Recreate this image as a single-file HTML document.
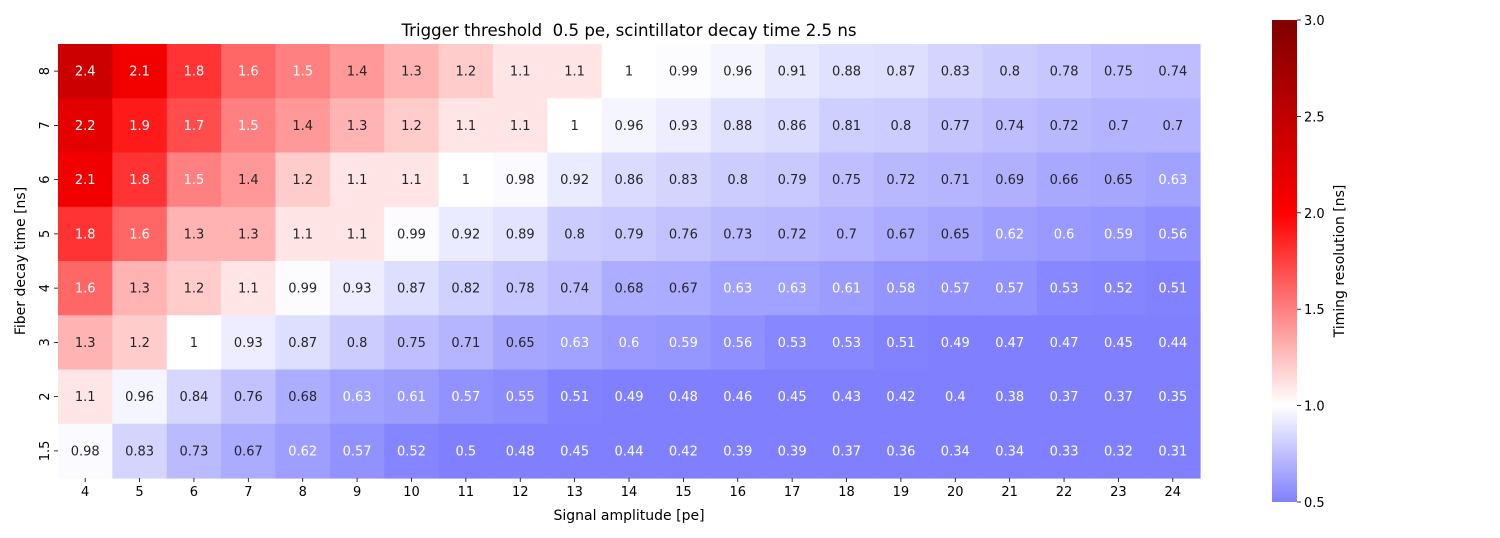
<!DOCTYPE html>
<html><head><meta charset="utf-8"><style>
body{margin:0;background:#fff;font-family:"Liberation Sans","DejaVu Sans",sans-serif}
</style></head><body>
<svg id="chart" width="1500" height="533" xmlns="http://www.w3.org/2000/svg" font-family="DejaVu Sans, Liberation Sans, sans-serif">
<defs>
<linearGradient id="cbg" x1="0" y1="1" x2="0" y2="0">
<stop offset="0" stop-color="#8080ff"/>
<stop offset="0.2" stop-color="#ffffff"/>
<stop offset="0.6" stop-color="#ff0000"/>
<stop offset="1" stop-color="#800000"/>
</linearGradient>
</defs>
<text x="629" y="36" font-size="16.6" text-anchor="middle">Trigger threshold&#160; 0.5 pe, scintillator decay time 2.5 ns</text>
<g id="cells"></g>
<g id="xticks"></g>
<g id="yticks"></g>
<text x="629" y="520" font-size="14" text-anchor="middle">Signal amplitude [pe]</text>
<text transform="translate(25,261) rotate(-90)" font-size="14" text-anchor="middle">Fiber decay time [ns]</text>
<rect x="1272" y="20" width="25" height="482" fill="url(#cbg)"/>
<g id="cbticks"></g>
<text transform="translate(1344,261) rotate(-90)" font-size="14" text-anchor="middle">Timing resolution [ns]</text>
</svg>
<script>
const xLabels=["4","5","6","7","8","9","10","11","12","13","14","15","16","17","18","19","20","21","22","23","24"];
const yLabels=["8","7","6","5","4","3","2","1.5"];
const row8=[2.4,2.1,1.8,1.6,1.5,1.4,1.3,1.2,1.1,1.1,1,0.99,0.96,0.91,0.88,0.87,0.83,0.8,0.78,0.75,0.74];
const row7=[2.2,1.9,1.7,1.5,1.4,1.3,1.2,1.1,1.1,1,0.96,0.93,0.88,0.86,0.81,0.8,0.77,0.74,0.72,0.7,0.7];
const row6=[2.1,1.8,1.5,1.4,1.2,1.1,1.1,1,0.98,0.92,0.86,0.83,0.8,0.79,0.75,0.72,0.71,0.69,0.66,0.65,0.63];
const row5=[1.8,1.6,1.3,1.3,1.1,1.1,0.99,0.92,0.89,0.8,0.79,0.76,0.73,0.72,0.7,0.67,0.65,0.62,0.6,0.59,0.56];
const row4=[1.6,1.3,1.2,1.1,0.99,0.93,0.87,0.82,0.78,0.74,0.68,0.67,0.63,0.63,0.61,0.58,0.57,0.57,0.53,0.52,0.51];
const row3=[1.3,1.2,1,0.93,0.87,0.8,0.75,0.71,0.65,0.63,0.6,0.59,0.56,0.53,0.53,0.51,0.49,0.47,0.47,0.45,0.44];
const row2=[1.1,0.96,0.84,0.76,0.68,0.63,0.61,0.57,0.55,0.51,0.49,0.48,0.46,0.45,0.43,0.42,0.4,0.38,0.37,0.37,0.35];
const row15=[0.98,0.83,0.73,0.67,0.62,0.57,0.52,0.5,0.48,0.45,0.44,0.42,0.39,0.39,0.37,0.36,0.34,0.34,0.33,0.32,0.31];
const cbTicks=[0.5,1.0,1.5,2.0,2.5,3.0];
const rows=[row8,row7,row6,row5,row4,row3,row2,row15];
const NS="http://www.w3.org/2000/svg";
const X0=58,X1=1200,Y0=44,Y1=478,VMIN=0.5,VMAX=3.0;
const cw=(X1-X0)/xLabels.length, ch=(Y1-Y0)/yLabels.length;
const xPos=i=>X0+i*cw, yPos=j=>Y0+j*ch;
const cbY=v=>502-(v-VMIN)/(VMAX-VMIN)*482;
function seismic(v){
  v=Math.max(VMIN,Math.min(VMAX,v));
  const t=(v+1)/4;
  let r,g,b;
  if(t<0.25){const f=t/0.25;r=0;g=0;b=0.3+0.7*f;}
  else if(t<0.5){const f=(t-0.25)/0.25;r=f;g=f;b=1;}
  else if(t<0.75){const f=(t-0.5)/0.25;r=1;g=1-f;b=1-f;}
  else{const f=(t-0.75)/0.25;r=1-0.5*f;g=0;b=0;}
  return [r,g,b];
}
function lum(c){const l=c.map(x=>x<=0.03928?x/12.92:Math.pow((x+0.055)/1.055,2.4));return 0.2126*l[0]+0.7152*l[1]+0.0722*l[2];}
function el(tag,attrs,parent){const e=document.createElementNS(NS,tag);for(const k in attrs)e.setAttribute(k,attrs[k]);parent.appendChild(e);return e;}
const cells=document.getElementById('cells');
rows.forEach((row,j)=>{row.forEach((v,i)=>{
  const c=seismic(v);
  const r=el('rect',{x:xPos(i),y:yPos(j),width:cw+0.6,height:ch+0.6,fill:`rgb(${Math.round(c[0]*255)},${Math.round(c[1]*255)},${Math.round(c[2]*255)})`},cells);
  
  
  const t=el('text',{x:xPos(i)+cw/2,y:yPos(j)+ch/2+4.5,'font-size':13,'text-anchor':'middle',fill:lum(c)>0.408?'#262626':'#ffffff'},cells);
  t.textContent=String(v);
  
  
});});
const xt=document.getElementById('xticks');
xLabels.forEach((l,i)=>{
  const x=xPos(i)+cw/2;
  const ln=el('line',{x1:x,x2:x,y1:Y1,y2:Y1+4,stroke:'#000','stroke-width':0.8},xt);
  
  
  const t=el('text',{x:x,y:Y1+18,'font-size':13,'text-anchor':'middle'},xt);
  t.textContent=l;
  
  
});
const yt=document.getElementById('yticks');
yLabels.forEach((l,j)=>{
  const y=yPos(j)+ch/2;
  const ln=el('line',{x1:X0-4,x2:X0,y1:y,y2:y,stroke:'#000','stroke-width':0.8},yt);
  
  
  const t=el('text',{transform:`translate(${X0-9},${y}) rotate(-90)`,'font-size':13,'text-anchor':'middle'},yt);
  t.textContent=l;
  
  
});
const cb=document.getElementById('cbticks');
cbTicks.forEach(v=>{
  const y=cbY(v);
  const ln=el('line',{x1:1297,x2:1301,y1:y,y2:y,stroke:'#000','stroke-width':0.8},cb);
  
  
  const t=el('text',{x:1304,y:y+5,'font-size':13},cb);
  t.textContent=v.toFixed(1);
  
  
});
</script>
</body></html>
